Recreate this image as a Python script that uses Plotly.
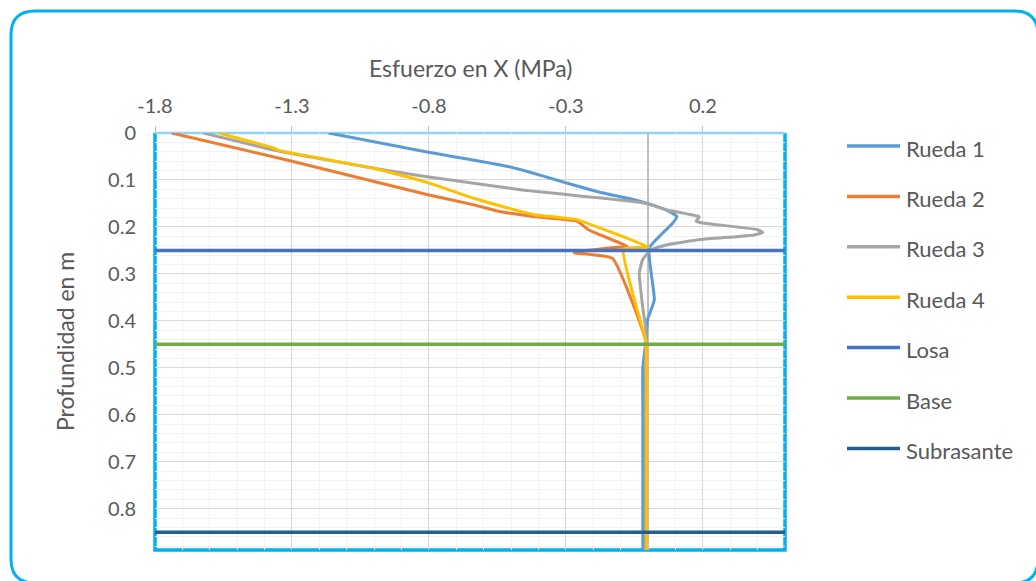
import plotly.graph_objects as go

# ---- data: depth (m) and horizontal stress (MPa) for each wheel load ----
RUEDA1_DEPTH = [0, 0.041, 0.068, 0.082, 0.107, 0.125, 0.142, 0.151, 0.167, 0.178, 0.192, 0.245,
                0.355, 0.398, 0.444, 0.5, 0.6, 0.7, 0.8, 0.89]
RUEDA1_STRESS = [-1.166, -0.802, -0.538, -0.440, -0.294, -0.184, -0.051, 0.004, 0.077, 0.105, 0.090, 0.004,
                 0.023, -0.002, -0.008, -0.019, -0.019, -0.019, -0.019, -0.019]

RUEDA2_DEPTH = [0, 0.060, 0.132, 0.153, 0.166, 0.171, 0.178, 0.188, 0.206, 0.242, 0.244, 0.255, 0.267,
                0.444, 0.5, 0.6, 0.7, 0.8, 0.89]
RUEDA2_STRESS = [-1.739, -1.300, -0.800, -0.636, -0.550, -0.502, -0.420, -0.258, -0.218, -0.075, -0.124, -0.270, -0.130,
                 -0.008, -0.008, -0.008, -0.008, -0.008, -0.008]

RUEDA3_DEPTH = [0, 0.036, 0.075, 0.092, 0.107, 0.121, 0.124, 0.135, 0.149, 0.164, 0.174, 0.178, 0.188, 0.191,
                0.206, 0.212, 0.217, 0.227, 0.238, 0.249, 0.270, 0.299, 0.373, 0.419, 0.5, 0.6, 0.7, 0.8, 0.89]
RUEDA3_STRESS = [-1.623, -1.367, -1.002, -0.819, -0.636, -0.465, -0.416, -0.233, -0.014, 0.071, 0.157, 0.187, 0.175, 0.193,
                 0.400, 0.419, 0.388, 0.193, 0.071, 0.010, -0.020, -0.032, -0.019, -0.008, -0.010, -0.010, -0.010, -0.010, -0.010]

RUEDA4_DEPTH = [0, 0.032, 0.037, 0.075, 0.103, 0.139, 0.167, 0.174, 0.185, 0.203, 0.243, 0.247, 0.355,
                0.444, 0.5, 0.6, 0.7, 0.8, 0.89]
RUEDA4_STRESS = [-1.568, -1.367, -1.349, -1.002, -0.819, -0.636, -0.465, -0.416, -0.258, -0.172, 0.002, -0.090, -0.050,
                 -0.008, -0.005, -0.005, -0.005, -0.005, -0.005]

# layer interfaces (depth, m) spanning the full stress range
LAYER_NAMES = ["Losa", "Base", "Subrasante"]
LAYER_DEPTHS = [0.25, 0.45, 0.85]
LAYER_SPAN = [-1.8, 0.5]

SERIES_NAMES = ["Rueda 1", "Rueda 2", "Rueda 3", "Rueda 4"]
COLORS = ["#5B9BD5", "#ED7D31", "#A5A5A5", "#FFC000", "#4472C4", "#70AD47", "#255E91"]

X_TICKS = [-1.8, -1.3, -0.8, -0.3, 0.2]
X_TICK_TEXT = ["-1.8", "-1.3", "-0.8", "-0.3", "0.2"]
Y_TICKS = [0, 0.1, 0.2, 0.3, 0.4, 0.5, 0.6, 0.7, 0.8]
Y_TICK_TEXT = ["0", "0.1", "0.2", "0.3", "0.4", "0.5", "0.6", "0.7", "0.8"]

# ---- page geometry (pixels) ----
W, H = 1036, 581
PL, PR, PT, PB = 155, 785, 133, 550
FONT = "Lato"
TXT = "#595959"


def px_x(p):
    return (p - PL) / (PR - PL)


def px_y(p):
    return (PB - p) / (PB - PT)


fig = go.Figure()

depths = [RUEDA1_DEPTH, RUEDA2_DEPTH, RUEDA3_DEPTH, RUEDA4_DEPTH]
stresses = [RUEDA1_STRESS, RUEDA2_STRESS, RUEDA3_STRESS, RUEDA4_STRESS]
for i, name in enumerate(SERIES_NAMES):
    fig.add_trace(go.Scatter(x=stresses[i], y=depths[i], mode="lines", name=name,
                             line=dict(color=COLORS[i], width=3, shape="spline", smoothing=0.4),
                             showlegend=False))

for j, name in enumerate(LAYER_NAMES):
    fig.add_trace(go.Scatter(x=LAYER_SPAN, y=[LAYER_DEPTHS[j]] * 2, mode="lines", name=name,
                             line=dict(color=COLORS[4 + j], width=3.5), showlegend=False))

shapes = []
# plot area frame: left, bottom and right sides in bright cyan, top lighter
shapes.append(dict(type="path", xref="paper", yref="paper", layer="between",
                   path="M 0,1 L 0,0 L 1,0 L 1,1",
                   line=dict(color="#00B0F0", width=3.5), fillcolor="rgba(0,0,0,0)"))
shapes.append(dict(type="line", xref="paper", yref="paper", layer="between",
                   x0=0, x1=1, y0=1, y1=1, line=dict(color="#8FD4F2", width=2.5)))

# rounded outer chart border
L, T, R, B, r = 11, 11, 1038, 583, 24
pts = [
    ("M", (L, T + r)), ("Q", (L, T), (L + r, T)), ("L", (R - r, T)), ("Q", (R, T), (R, T + r)),
    ("L", (R, B - r)), ("Q", (R, B), (R - r, B)), ("L", (L + r, B)), ("Q", (L, B), (L, B - r)),
]
path = ""
for seg in pts:
    cmd = seg[0]
    coords = " ".join(f"{px_x(a):.5f},{px_y(b):.5f}" for a, b in seg[1:])
    path += f"{cmd} {coords} "
path += "Z"
shapes.append(dict(type="path", xref="paper", yref="paper", path=path, layer="above",
                   line=dict(color="#00B0F0", width=3), fillcolor="rgba(0,0,0,0)"))

# legend drawn as sample lines with labels
annotations = []
all_names = SERIES_NAMES + LAYER_NAMES
for k, name in enumerate(all_names):
    yy = 146 + 50.4 * k
    shapes.append(dict(type="line", xref="paper", yref="paper",
                       x0=px_x(847), x1=px_x(900), y0=px_y(yy), y1=px_y(yy),
                       line=dict(color=COLORS[k], width=3.5)))
    annotations.append(dict(text=name, xref="paper", yref="paper", x=px_x(904), y=px_y(yy + 2),
                            xanchor="left", yanchor="middle", showarrow=False,
                            font=dict(family=FONT, size=22, color=TXT)))

# axis titles
annotations.append(dict(text="Esfuerzo en X (MPa)", xref="paper", yref="paper",
                        x=px_x(470), y=px_y(68), xanchor="center", yanchor="middle",
                        showarrow=False, font=dict(family=FONT, size=23, color=TXT)))
annotations.append(dict(text="Profundidad en m", xref="paper", yref="paper",
                        x=px_x(65), y=px_y(342), xanchor="center", yanchor="middle", textangle=-90,
                        showarrow=False, font=dict(family=FONT, size=23, color=TXT)))

fig.update_layout(
    width=W, height=H,
    margin=dict(l=PL, r=W - PR, t=PT, b=H - PB, pad=0),
    paper_bgcolor="white", plot_bgcolor="white",
    shapes=shapes, annotations=annotations,
    showlegend=False,
    font=dict(family=FONT, color=TXT),
)

fig.update_xaxes(
    side="top", range=[-1.8, 0.5], tickmode="array", tickvals=X_TICKS, ticktext=X_TICK_TEXT,
    showgrid=True, gridcolor="#D9D9D9", gridwidth=1,
    minor=dict(tickmode="linear", tick0=-1.8, dtick=0.1, showgrid=True, gridcolor="#F2F2F2", gridwidth=1),
    zeroline=True, zerolinecolor="#BFBFBF", zerolinewidth=1.5,
    ticks="outside", ticklen=6, tickcolor="#BFBFBF", tickwidth=1,
    ticklabelstandoff=5,
    tickfont=dict(family=FONT, size=20, color=TXT), showline=False,
)
fig.update_yaxes(
    range=[0.888, 0], tickmode="array", tickvals=Y_TICKS, ticktext=Y_TICK_TEXT,
    showgrid=True, gridcolor="#D9D9D9", gridwidth=1,
    minor=dict(tickmode="linear", tick0=0, dtick=0.02, showgrid=True, gridcolor="#F2F2F2", gridwidth=1),
    zeroline=False, ticks="", ticklabelstandoff=18,
    tickfont=dict(family=FONT, size=20, color=TXT), showline=False,
)

fig.write_html("out.html")
